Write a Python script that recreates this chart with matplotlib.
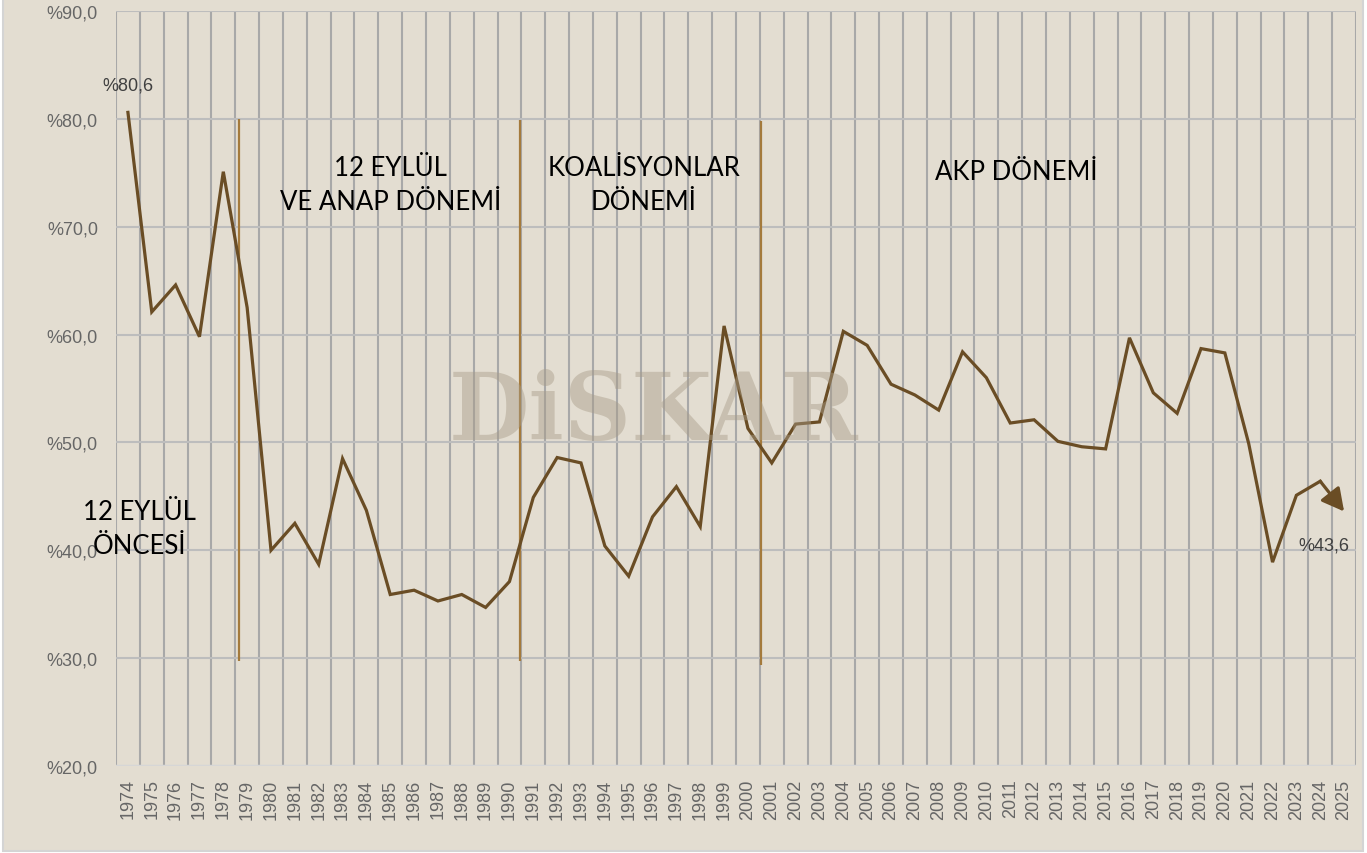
import matplotlib
matplotlib.use("Agg")
import matplotlib.pyplot as plt
from matplotlib.patches import Rectangle, FancyArrowPatch
import numpy as np

# ---- data ----
years = [str(y) for y in range(1974, 2026)]
values = [80.6, 62.1, 64.6, 59.8, 75.1, 62.5, 40.0, 42.5, 38.7, 48.5,
          43.7, 35.9, 36.3, 35.3, 35.9, 34.7, 37.1, 44.9, 48.6, 48.1,
          40.4, 37.6, 43.1, 45.9, 42.2, 60.8, 51.3, 48.1, 51.7, 51.9,
          60.3, 59.0, 55.4, 54.4, 53.0, 58.4, 56.0, 51.8, 52.1, 50.1,
          49.6, 49.4, 59.7, 54.6, 52.7, 58.7, 58.3, 49.9, 38.9, 45.1,
          46.4, 43.6]
y_ticks = [20, 30, 40, 50, 60, 70, 80, 90]
period_labels = [["12 EYLÜL", "ÖNCESİ"],
                 ["12 EYLÜL", "VE ANAP DÖNEMİ"],
                 ["KOALİSYONLAR", "DÖNEMİ"],
                 ["AKP DÖNEMİ"]]
first_label = "%80,6"
last_label = "%43,6"

def fmt(v):
    return "%" + f"{v:.1f}".replace(".", ",")

BG = "#e3ddd1"
LINE = "#6a4d25"
PERIOD = "#a47a3c"

fig = plt.figure(figsize=(13.67, 8.54), dpi=100, facecolor="white")
fig.patches.append(Rectangle((3 / 1367, 2 / 854), 1360 / 1367, 1.0,
                             transform=fig.transFigure, facecolor=BG,
                             edgecolor="#d4d4d4", lw=1.5, zorder=-10))

ax = fig.add_axes([116 / 1367, 1 - 767 / 854, 1240 / 1367, 755 / 854])
ax.set_facecolor("none")
x = np.arange(len(years))
ax.set_xlim(-0.5, len(years) - 0.5)
ax.set_ylim(20, 90)

# grid
for k in range(len(years) + 1):
    ax.axvline(k - 0.5, color="#a8a8a8", lw=1.5, zorder=0.5)
for yt in y_ticks[1:]:
    ax.axhline(yt, color="#bdbdbd", lw=1.5, zorder=0.5)
ax.axhline(20, color="#d6d6d6", lw=2.5, zorder=0.6)

for s in ax.spines.values():
    s.set_visible(False)

ax.set_yticks(y_ticks)
ax.set_yticklabels([fmt(v) for v in y_ticks], family="Liberation Sans",
                   fontsize=13, color="#666666")
ax.set_xticks(x)
ax.set_xticklabels(years, rotation=90, family="Liberation Sans",
                   fontsize=13, color="#666666")
ax.tick_params(axis="y", length=0, pad=13)
ax.tick_params(axis="x", length=0, pad=9)

# watermark
fig.text(654 / 1367, 1 - 440 / 854, "DiSKAR", family="DejaVu Serif",
         fontweight="bold", fontsize=67, color="#a89c88", alpha=0.45,
         ha="center", va="baseline", zorder=1)

# period separators
for px, y0, y1 in [(4.66, 29.7, 80.0), (16.43, 29.7, 79.9), (26.55, 29.4, 79.8)]:
    ax.plot([px, px], [y0, y1], color=PERIOD, lw=1.6, zorder=2,
            solid_capstyle="butt")

# main line (last segment drawn as arrow)
ax.plot(x[:-1], values[:-1], color=LINE, lw=2.3, zorder=3,
        solid_joinstyle="miter")
arrow = FancyArrowPatch((x[-2], values[-2]), (x[-1], values[-1]),
                        arrowstyle="-|>,head_length=0.75,head_width=0.4",
                        mutation_scale=18, color=LINE, lw=2.3,
                        shrinkA=0, shrinkB=0, zorder=4)
ax.add_patch(arrow)

# data labels
ax.text(0.0, 83.1, first_label, family="Liberation Sans", fontsize=13,
        color="#404040", ha="center", va="center", zorder=5)
ax.text(50.15, 40.5, last_label, family="Liberation Sans", fontsize=13,
        color="#404040", ha="center", va="center", zorder=5)

# period labels
tk = dict(family=["Lato", "DejaVu Sans"], fontsize=18.5, color="black",
          ha="center", va="center", zorder=5)
pos = [(0.5, [43.6, 40.4]), (11.0, [75.5, 72.3]), (21.64, [75.5, 72.3]),
       (37.27, [75.1])]
for (px, ys), lines in zip(pos, period_labels):
    for yy, t in zip(ys, lines):
        ax.text(px, yy, t, **tk)

fig.savefig("out.png", dpi=100, facecolor=fig.get_facecolor())
